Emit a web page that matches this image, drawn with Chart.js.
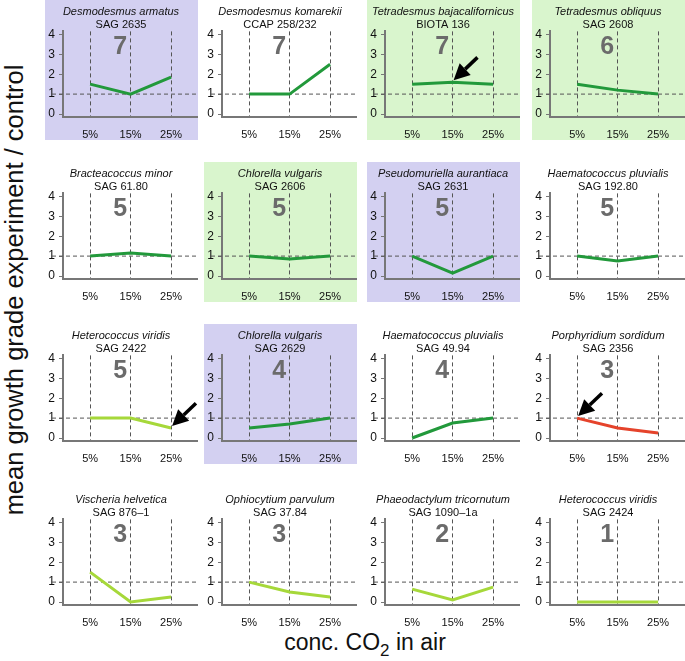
<!DOCTYPE html>
<html>
<head>
<meta charset="utf-8">
<script src="https://cdn.jsdelivr.net/npm/chart.js@4"></script>
<style>
  body { margin: 0; background: #fff; font-family: "Liberation Sans", Arial, Helvetica, sans-serif; }
  #wrap { position: relative; width: 685px; height: 661px; overflow: hidden; }
  .panel { position: absolute; width: 153px; height: 140px; }
  .panel canvas { display: block; }
  #ytitle {
    position: absolute; left: 14px; top: 290px; white-space: nowrap;
    transform: translate(-50%, -50%) rotate(-90deg);
    font-size: 25.5px; color: #111;
  }
  #xtitle {
    position: absolute; left: 365px; top: 642px; white-space: nowrap;
    transform: translate(-50%, -50%);
    font-size: 23px; color: #111;
  }
  #xtitle sub { font-size: 17px; vertical-align: -6px; line-height: 0; }
</style>
</head>
<body>
<div id="wrap">
  <div id="ytitle">mean growth grade experiment / control</div>
  <div id="xtitle">conc. CO<sub>2</sub> in air</div>
</div>
<script>
// data
const concentrations = ["5%", "15%", "25%"];
const yTicks = [0, 1, 2, 3, 4];
const species = [
  "Desmodesmus armatus", "Desmodesmus komarekii", "Tetradesmus bajacalifornicus", "Tetradesmus obliquus",
  "Bracteacoccus minor", "Chlorella vulgaris", "Pseudomuriella aurantiaca", "Haematococcus pluvialis",
  "Heterococcus viridis", "Chlorella vulgaris", "Haematococcus pluvialis", "Porphyridium sordidum",
  "Vischeria helvetica", "Ophiocytium parvulum", "Phaeodactylum tricornutum", "Heterococcus viridis"
];
const strains = [
  "SAG 2635", "CCAP 258/232", "BIOTA 136", "SAG 2608",
  "SAG 61.80", "SAG 2606", "SAG 2631", "SAG 192.80",
  "SAG 2422", "SAG 2629", "SAG 49.94", "SAG 2356",
  "SAG 876\u20131", "SAG 37.84", "SAG 1090\u20131a", "SAG 2424"
];
const grades = [7, 7, 7, 6, 5, 5, 5, 5, 5, 4, 4, 3, 3, 3, 2, 1];
const growth = [
  [1.5, 1.0, 1.85], [1.0, 1.0, 2.5], [1.5, 1.6, 1.5], [1.5, 1.2, 1.0],
  [1.0, 1.15, 1.0], [1.0, 0.85, 1.0], [1.0, 0.15, 1.0], [1.0, 0.75, 1.0],
  [1.0, 1.0, 0.5], [0.5, 0.7, 1.0], [0.0, 0.75, 1.0], [1.0, 0.5, 0.25],
  [1.5, 0.0, 0.25], [1.0, 0.5, 0.25], [0.65, 0.1, 0.75], [0.0, 0.0, 0.0]
];
// which point an arrow marks (-1 = none)
const arrowAt = [-1, -1, 1, -1, -1, -1, -1, -1, 2, -1, -1, 0, -1, -1, -1, -1];

// styling
const shade = { lav: "#d3d0f1", grn: "#d9f5cd", none: "#ffffff" };
const panelBg = [
  "lav", "none", "grn", "grn",
  "none", "grn", "lav", "none",
  "none", "lav", "none", "none",
  "none", "none", "none", "none"
];
const lineCol = { dark: "#22993b", light: "#a6d83a", red: "#e5432b" };
const panelLine = [
  "dark", "dark", "dark", "dark",
  "dark", "dark", "dark", "dark",
  "light", "dark", "dark", "red",
  "light", "light", "light", "light"
];
const colLeft = [45, 204, 367, 532];
const rowTop = [0, 162, 324, 488];

Chart.defaults.font.family = '"Liberation Sans", Arial, Helvetica, sans-serif';
Chart.defaults.color = "#111";

const extras = {
  id: "extras",
  beforeDatasetsDraw(chart) {
    const { ctx, chartArea, scales: { x, y } } = chart;
    const i = chart.options.plugins.extras.idx;
    // reference line at ratio 1
    const y1 = y.getPixelForValue(1);
    ctx.save();
    ctx.strokeStyle = "#555";
    ctx.lineWidth = 1;
    ctx.setLineDash([4, 3]);
    ctx.beginPath();
    ctx.moveTo(chartArea.left - 11, y1);
    ctx.lineTo(chart.width, y1);
    ctx.stroke();
    // grade number
    ctx.setLineDash([]);
    ctx.fillStyle = "#6b6b6b";
    ctx.font = 'bold 25px "Liberation Sans", Arial, sans-serif';
    ctx.textAlign = "center";
    ctx.textBaseline = "middle";
    ctx.fillText(String(grades[i]), x.getPixelForValue(0.74), y.getPixelForValue(3.35));
    ctx.restore();
  },
  afterDatasetsDraw(chart) {
    const i = chart.options.plugins.extras.idx;
    if (arrowAt[i] < 0) return;
    const { ctx, scales: { x, y } } = chart;
    const tx = x.getPixelForValue(arrowAt[i]) + 1;
    const ty = y.getPixelForValue(growth[i][arrowAt[i]]) - 2;
    const ang = Math.atan2(-21, 22);
    const len = 33, head = 16, half = 8;
    const ux = Math.cos(ang), uy = Math.sin(ang);
    const bx = tx + ux * head, by = ty + uy * head;
    ctx.save();
    ctx.fillStyle = "#000";
    ctx.strokeStyle = "#000";
    ctx.lineWidth = 3.5;
    ctx.beginPath();
    ctx.moveTo(bx, by);
    ctx.lineTo(tx + ux * len, ty + uy * len);
    ctx.stroke();
    ctx.beginPath();
    ctx.moveTo(tx, ty);
    ctx.lineTo(bx - uy * half, by + ux * half);
    ctx.lineTo(bx + uy * half, by - ux * half);
    ctx.closePath();
    ctx.fill();
    ctx.restore();
  }
};

const wrap = document.getElementById("wrap");
species.forEach((name, i) => {
  const div = document.createElement("div");
  div.className = "panel";
  div.style.left = colLeft[i % 4] + "px";
  div.style.top = rowTop[Math.floor(i / 4)] + "px";
  div.style.background = shade[panelBg[i]];
  const cv = document.createElement("canvas");
  cv.width = 153;
  cv.height = 140;
  div.appendChild(cv);
  wrap.appendChild(div);

  new Chart(cv, {
    type: "line",
    data: {
      datasets: [{
        data: growth[i].map((v, k) => ({ x: k, y: v })),
        borderColor: lineCol[panelLine[i]],
        borderWidth: 3,
        pointRadius: 0,
        tension: 0,
      }],
    },
    options: {
      responsive: false,
      animation: false,
      events: [],
      layout: { padding: { left: 0, right: 1, top: 0, bottom: 0 } },
      plugins: {
        legend: { display: false },
        tooltip: { enabled: false },
        title: {
          display: true,
          text: name,
          color: "#111",
          font: { size: 11, style: "italic", weight: "normal" },
          padding: { top: 5, bottom: 0 },
        },
        subtitle: {
          display: true,
          text: strains[i],
          color: "#111",
          font: { size: 11 },
          padding: { top: 0, bottom: 0 },
        },
        extras: { idx: i },
      },
      scales: {
        x: {
          type: "linear",
          min: -0.67,
          max: 2.64,
          afterBuildTicks: (s) => { s.ticks = concentrations.map((_, k) => ({ value: k })); },
          afterFit: (s) => { s.height = 23; },
          ticks: {
            callback: (v) => concentrations[v],
            font: { size: 11 },
            color: "#111",
            padding: 11,
            maxRotation: 0,
            autoSkip: false,
          },
          grid: { color: "#555", lineWidth: 1, drawTicks: false },
          border: { display: true, color: "#777", width: 2, dash: [4, 3] },
        },
        y: {
          min: -0.15,
          max: 4.15,
          afterBuildTicks: (s) => { s.ticks = yTicks.map((v) => ({ value: v })); },
          afterFit: (s) => { s.width = 18; },
          ticks: { font: { size: 12 }, color: "#111", padding: 4 },
          grid: { drawOnChartArea: false, drawTicks: true, tickLength: 4, color: "#777" },
          border: { display: true, color: "#777", width: 2 },
        },
      },
    },
    plugins: [extras],
  });
});
</script>
</body>
</html>
